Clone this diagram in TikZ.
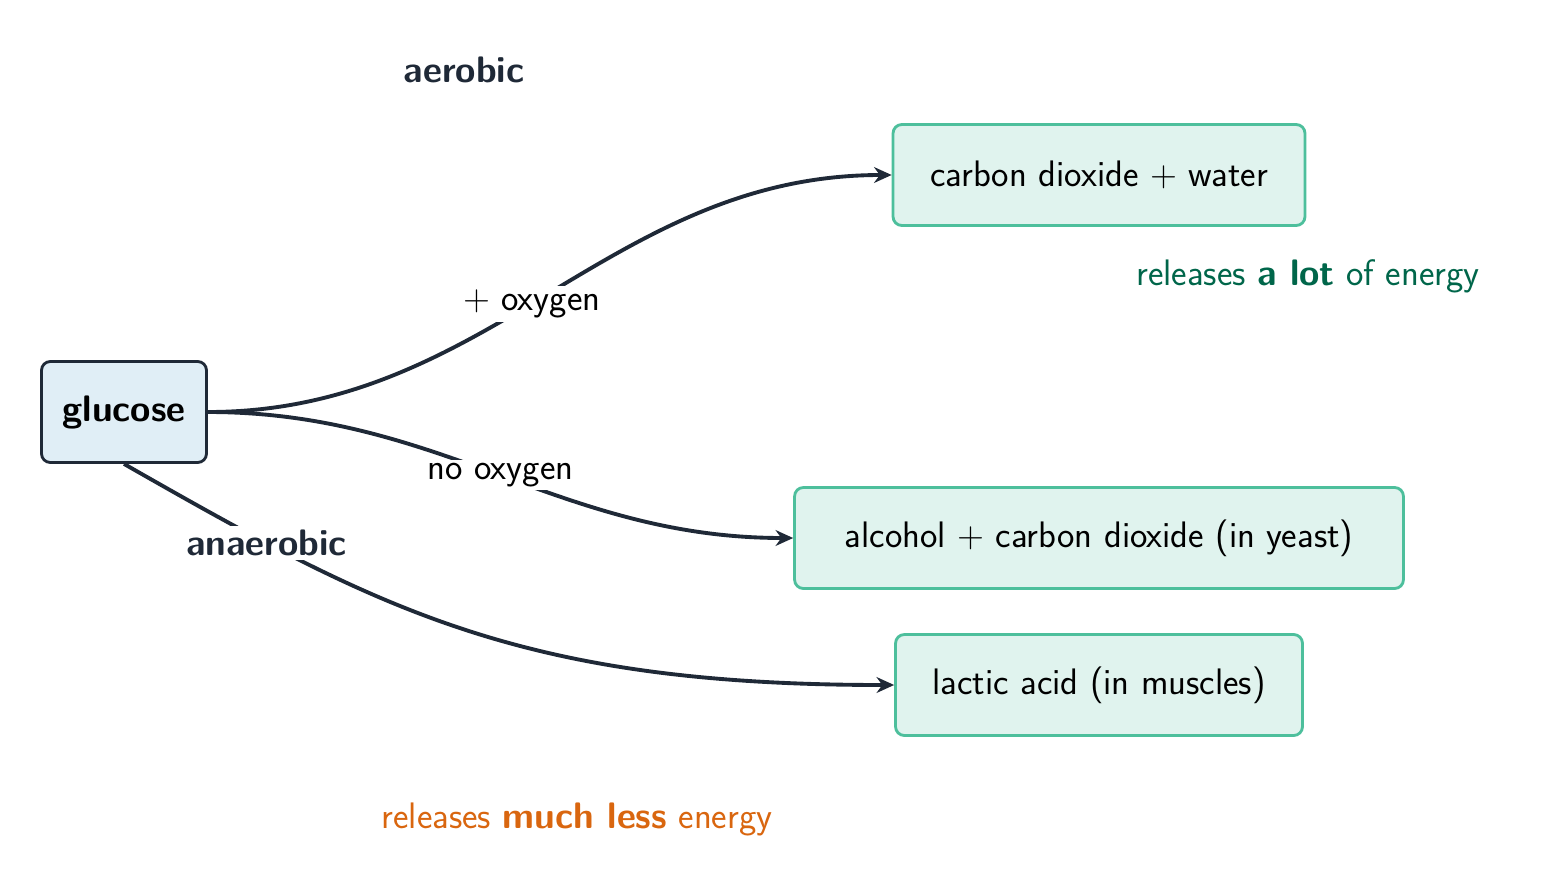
\documentclass[tikz,border=0pt]{standalone}
\usetikzlibrary{arrows.meta}
\definecolor{ink}{HTML}{1F2937}
\definecolor{srcfill}{HTML}{E0EEF6}
\definecolor{prodfill}{HTML}{E0F3EE}
\definecolor{prodline}{HTML}{4DBF9C}
\definecolor{lotcol}{HTML}{00664A}
\definecolor{lesscol}{HTML}{D9660F}
\tikzset{
  box/.style={rounded corners=5pt, line width=1.6pt, minimum height=2.02cm, inner sep=1pt, font=\fontsize{21}{25}\selectfont\sffamily},
  src/.style={box, draw=ink, fill=srcfill, minimum width=3.3cm, font=\fontsize{21}{25}\selectfont\sffamily\bfseries},
  prod/.style={box, draw=prodline, fill=prodfill},
  flow/.style={ink, line width=2.2pt, -{Stealth[length=10pt,width=9pt]}},
  tag/.style={fill=white, inner sep=2pt, text=black, font=\fontsize{21}{25}\selectfont\sffamily},
  note/.style={font=\fontsize{21}{25}\selectfont\sffamily}
}
\begin{document}
\begin{tikzpicture}[x=0.02cm,y=-0.02cm]
\useasboundingbox (0,0) rectangle (1557,892);
\node[src] (glu) at (124,412) {glucose};
\node[prod, minimum width=8.24cm] (cow) at (1099,175) {carbon dioxide + water};
\node[prod, minimum width=12.18cm] (alc) at (1099,538) {alcohol + carbon dioxide (in yeast)};
\node[prod, minimum width=8.14cm] (lac) at (1099,685) {lactic acid (in muscles)};
\node[note, text=ink, font=\fontsize{21}{25}\selectfont\sffamily\bfseries] (aer) at (464,70) {aerobic};
\node[note, text=lotcol] (lot) at (1308,276) {releases \textbf{a lot} of energy};
\node[note, text=lesscol] (less) at (577,819) {releases \textbf{much less} energy};
\draw[flow] (glu.east) to[out=0,in=180] node[tag, pos=0.47] {+ oxygen} (cow.west);
\draw[flow] (glu.east) to[out=0,in=180] node[tag, pos=0.5] {no oxygen} (alc.west);
\draw[flow] (glu.south) .. controls (380,610) and (520,685) .. node[tag, pos=0.2, text=ink, font=\fontsize{21}{25}\selectfont\sffamily\bfseries] {anaerobic} (lac.west);
\end{tikzpicture}
\end{document}
